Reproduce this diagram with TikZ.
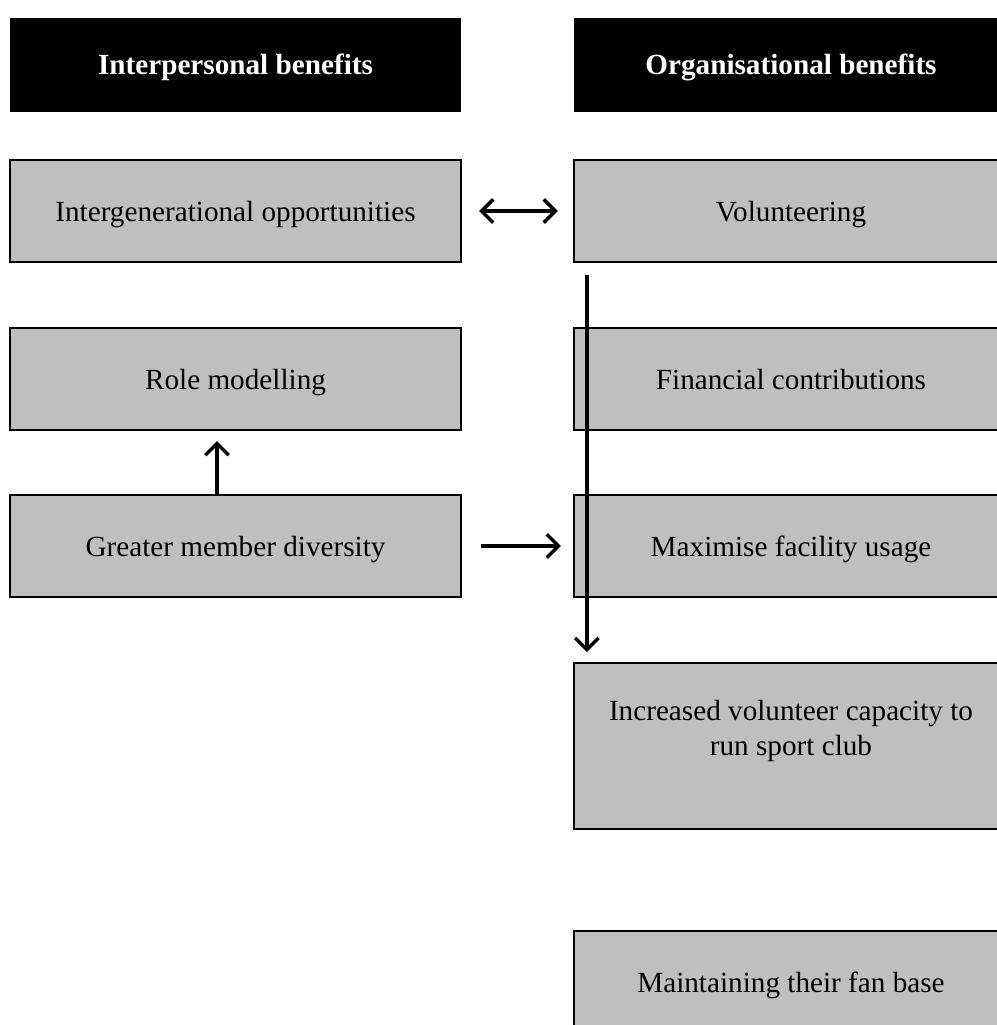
\documentclass[tikz,border=0pt]{standalone}
\usepackage{fontspec}
\setmainfont{Liberation Serif}
\usetikzlibrary{arrows.meta}
\definecolor{boxgray}{RGB}{191,191,191}

\begin{document}
\begin{tikzpicture}[>={Straight Barb[length=4.8pt,width=9.6pt]}, x=0.411pt, y=-0.411pt,
    heading/.style={fill=black, text=white, inner sep=0pt, minimum height=38.6pt,
        text height=9.5pt, text depth=1.6pt, font=\fontsize{12}{14.4}\selectfont\bfseries},
    benefit/.style={draw, fill=boxgray, line width=0.9pt, inner sep=0pt,
        minimum height=41.9pt, align=center, text height=10pt, text depth=1.2pt,
        font=\fontsize{12}{14.4}\selectfont},
    leftcol/.style={minimum width=185.4pt},
    rightcol/.style={minimum width=178.4pt},
    link/.style={line width=1.4pt}]
    % 1. Page frame (right column runs off the page)
    \useasboundingbox (0,0) rectangle (997,1025);
    \clip (0,0) rectangle (997,1025);

    % 2. Column headings
    \node[heading, leftcol] (interp) at (235.5,65) {Interpersonal benefits};
    \node[heading, rightcol] (organ) at (791,65) {Organisational benefits};

    % 3. Interpersonal benefits (left column)
    \node[benefit, leftcol] (intergen) at (235.5,211) {Intergenerational opportunities};
    \node[benefit, leftcol] (role) at (235.5,379) {Role modelling};
    \node[benefit, leftcol] (diversity) at (235.5,546) {Greater member diversity};

    % 4. Organisational benefits (right column)
    \node[benefit, rightcol] (volunteer) at (791,211) {Volunteering};
    \node[benefit, rightcol] (finance) at (791,379) {Financial contributions};
    \node[benefit, rightcol] (facility) at (791,546) {Maximise facility usage};
    \node[benefit, rightcol, minimum height=68.2pt, text height=, text depth=14.6pt] (capacity) at (791,746)
        {Increased volunteer capacity to\\run sport club};
    \node[benefit, rightcol] (fanbase) at (791,982) {Maintaining their fan base};

    % 5. Arrows between the benefits
    \draw[link, <->, shorten <=7pt, shorten >=6.2pt] (intergen.east) -- (volunteer.west);
    \draw[link, ->, shorten >=4.1pt] ([xshift=-7.6pt]diversity.north) -- ([xshift=-7.6pt]role.south);
    \draw[link, ->, shorten <=7.8pt, shorten >=4.9pt] (diversity.east) -- (facility.west);
    \draw[link, ->, shorten <=4.9pt, shorten >=4.1pt]
        ([xshift=5.75pt]volunteer.south west) -- ([xshift=5.75pt]capacity.north west);
\end{tikzpicture}
\end{document}
